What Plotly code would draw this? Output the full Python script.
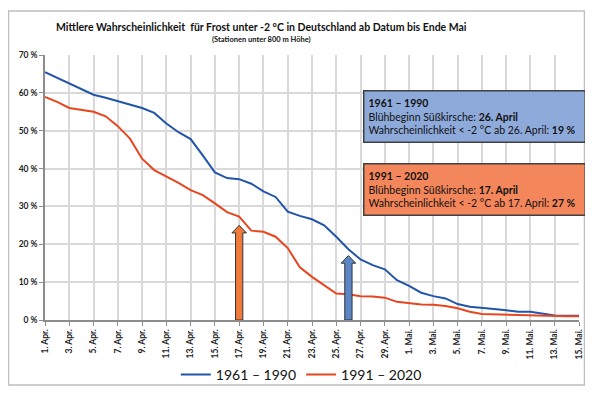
import plotly.graph_objects as go

# ---- data ----
day_labels = [f"{d}. Apr." for d in range(1, 31)] + [f"{d}. Mai." for d in range(1, 16)]
series_names = ["1961 – 1990", "1991 – 2020"]
p_1961_1990 = [65.5, 64.0, 62.5, 61.0, 59.5, 58.7, 57.8, 57.0, 56.0, 54.7,
               51.9, 49.6, 47.8, 43.5, 39.0, 37.5, 37.2, 36.0, 34.0, 32.5,
               28.6, 27.5, 26.6, 25.0, 22.0, 18.7, 16.0, 14.5, 13.4, 10.5,
               9.0, 7.2, 6.3, 5.7, 4.2, 3.5, 3.3, 2.9, 2.6, 2.2,
               2.2, 1.8, 1.2, 1.1, 1.1]
p_1991_2020 = [58.9, 57.6, 56.0, 55.5, 55.0, 53.8, 51.2, 47.9, 42.6, 39.6,
               38.0, 36.2, 34.3, 33.0, 30.8, 28.5, 27.3, 23.6, 23.3, 22.0,
               19.0, 13.9, 11.4, 9.2, 7.0, 6.8, 6.3, 6.2, 5.9, 4.8,
               4.4, 4.1, 4.0, 3.7, 3.1, 2.2, 1.6, 1.5, 1.5, 1.4,
               1.2, 1.1, 1.0, 1.0, 1.0]
bloom_labels = ["26. April", "17. April"]
bloom_index = [25, 16]
arrow_tops = [17, 25]
y_ticks = [0, 10, 20, 30, 40, 50, 60, 70]

line_colors = ["#2255aa", "#e8461e"]
arrow_colors = ["#5b86c6", "#ee7a3c"]
box_colors = ["#8eaadb", "#f4865b"]

x = list(range(len(day_labels)))
FONT = "Lato, 'Open Sans', sans-serif"

fig = go.Figure()
for name, vals, col in zip(series_names, [p_1961_1990, p_1991_2020], line_colors):
    fig.add_trace(go.Scatter(x=x, y=vals, mode="lines", name=name,
                             line=dict(color=col, width=2)))

# block arrows at bloom dates
shaft_hw, head_hw, head_h = 0.3, 0.6, 2.0
for i, (idx, top, col) in enumerate(zip(bloom_index, arrow_tops, arrow_colors)):
    xs = [idx - shaft_hw, idx - shaft_hw, idx - head_hw, idx, idx + head_hw,
          idx + shaft_hw, idx + shaft_hw, idx - shaft_hw]
    ys = [0, top - head_h, top - head_h, top, top - head_h, top - head_h, 0, 0]
    fig.add_trace(go.Scatter(x=xs, y=ys, mode="lines", fill="toself",
                             fillcolor=col, line=dict(color="#333333", width=1),
                             showlegend=False, hoverinfo="skip"))

# info boxes
box_y = [0.868, 0.592]
for i in range(2):
    vals = [p_1961_1990, p_1991_2020][i]
    prob = round(vals[bloom_index[i]])
    day = bloom_labels[i].split(" ")[0]
    txt = (f"<b>{series_names[i]}</b><br>Blühbeginn Süßkirsche: <b>{bloom_labels[i]}</b><br>"
           f"Wahrscheinlichkeit &lt; -2 °C ab {day} April: <b>{prob} %</b>")
    fig.add_annotation(xref="paper", yref="paper", x=0.5955, y=box_y[i],
                       xanchor="left", yanchor="top", text=txt, showarrow=False,
                       align="left", width=212, height=42, valign="middle",
                       bgcolor=box_colors[i], bordercolor="#404040", borderwidth=1.5,
                       borderpad=4, font=dict(family=FONT, size=10.5, color="#111111"))

# titles
fig.add_annotation(xref="paper", yref="paper", x=0.406, y=1.106, yanchor="middle",
                   text="<b>Mittlere Wahrscheinlichkeit  für Frost unter -2 °C in Deutschland ab Datum bis Ende Mai</b>",
                   showarrow=False, font=dict(family=FONT, size=10.5, color="#111111"))
fig.add_annotation(xref="paper", yref="paper", x=0.406, y=1.057, yanchor="middle",
                   text="<b>(Stationen unter 800 m Höhe)</b>",
                   showarrow=False, font=dict(family=FONT, size=7.5, color="#111111"))

# outer frame
fig.add_shape(type="rect", xref="paper", yref="paper", x0=-0.0684, x1=1.0103,
              y0=-0.245, y1=1.166, line=dict(color="#bfbfbf", width=1.5), layer="below")

fig.update_xaxes(range=[0, len(day_labels) - 1], tickvals=x[::2], ticktext=day_labels[::2],
                 tickangle=-90, showgrid=True, gridcolor="#d9d9d9", gridwidth=1.5,
                 showline=True, linecolor="#8c8c8c", linewidth=1.5, ticks="outside",
                 ticklen=4, tickcolor="#8c8c8c", zeroline=False,
                 tickfont=dict(family=FONT, size=8.5, color="#222222", weight="bold"))
fig.update_yaxes(range=[0, 70], tickvals=y_ticks, ticktext=[f"{v} %" for v in y_ticks],
                 showgrid=True, gridcolor="#d9d9d9", gridwidth=1.5,
                 showline=True, linecolor="#8c8c8c", linewidth=1.5, ticks="outside",
                 ticklen=4, tickcolor="#8c8c8c", zeroline=False,
                 tickfont=dict(family=FONT, size=8.5, color="#222222", weight="bold"))

fig.update_layout(width=577, height=379,
                  margin=dict(l=37, r=6, t=47, b=67, autoexpand=False),
                  plot_bgcolor="white", paper_bgcolor="white",
                  legend=dict(orientation="h", x=0.48, xanchor="center", y=-0.2075,
                              yanchor="middle", font=dict(family=FONT, size=14, color="#111111"),
                              itemwidth=30, bgcolor="rgba(0,0,0,0)"),
                  showlegend=True)

fig.write_html("out.html")
